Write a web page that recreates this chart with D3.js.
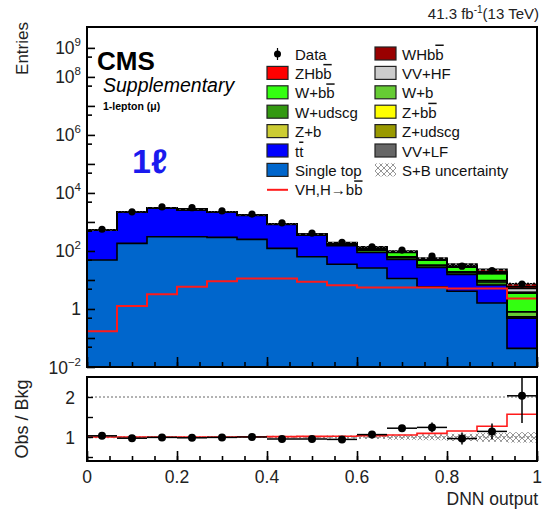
<!DOCTYPE html>
<html>
<head>
<meta charset="utf-8">
<script src="https://cdn.jsdelivr.net/npm/d3@7"></script>
<style>
  body { margin: 0; background: #fff; }
  svg { font-family: "Liberation Sans", Arial, Helvetica, sans-serif; }
</style>
</head>
<body>
<div id="chart"></div>
<script>
// ---- data (15 bins of DNN output) ----
let n_bins = 15
let single_top = [49, 182, 309, 309, 295, 251, 123, 63, 35, 26, 11.3, 5.8, 4.1, 1.6, 0.044]
let ttbar      = [470, 2010, 2730, 2380, 1900, 1440, 700, 295, 116, 63, 40, 21, 11.5, 5.1, 0.44]
let w_udscg    = [3, 10, 14, 12, 10, 9, 6, 4, 20, 18, 8, 4, 2.5, 1.8, 0.05]
let w_b        = [1, 3, 4, 4, 3, 3, 2, 2, 5, 6, 3, 2, 1.2, 1.0, 0.26]
let w_bb       = [1, 4, 5, 5, 5, 4, 4, 3, 8, 14, 26, 15, 8, 7, 2.7]
let z_udscg    = [1, 3, 4, 3, 3, 2, 2, 1, 2, 2, 1.5, 1, 0.5, 0.3, 0.05]
let z_b        = [0.5, 1, 1.5, 1.5, 1, 1, 1, 0.5, 1, 1, 0.8, 0.5, 0.3, 0.2, 0.05]
let z_bb       = [0.3, 1, 1, 1, 1, 1, 0.8, 0.5, 1, 1, 1, 0.8, 0.5, 0.4, 0.1]
let vv_lf      = [0.5, 1.5, 2, 2, 2, 1.5, 1, 0.8, 1, 1, 0.8, 0.5, 0.4, 0.2, 0.05]
let vv_hf      = [0.2, 0.5, 0.8, 0.8, 0.8, 0.7, 0.6, 0.5, 0.8, 1, 1.2, 1.2, 1, 0.8, 1.4]
let zh_bb      = [0.05, 0.3, 0.8, 1.4, 2.2, 2.7, 2.7, 2.1, 1.6, 1.3, 1.3, 1.3, 1.2, 1.2, 0.7]
let wh_bb      = [0.12, 0.9, 2.4, 4.4, 6.9, 8.6, 8.6, 6.6, 5.0, 4.2, 4.2, 4.2, 3.9, 3.9, 1.6]

let signal_line = [0.17, 1.26, 3.2, 5.8, 9.1, 11.3, 11.3, 8.7, 6.6, 5.5, 5.5, 5.5, 5.1, 5.1, 2.3]
let data_vals   = [560, 2240, 3300, 3100, 2400, 1870, 935, 415, 198, 139, 107, 66, 30, 21, 7.2]

let ratio_vals  = [1.03, 0.97, 0.99, 0.98, 0.99, 1.0, 0.95, 0.95, 0.94, 1.06, 1.22, 1.24, 0.96, 1.14, 2.03]
let ratio_errs  = [0.02, 0.01, 0.01, 0.01, 0.01, 0.01, 0.02, 0.03, 0.04, 0.05, 0.08, 0.12, 0.15, 0.2, 0.68]
let ratio_sig   = [1.0, 1.0, 1.0, 1.0, 1.0, 1.005, 1.01, 1.015, 1.02, 1.03, 1.05, 1.09, 1.15, 1.27, 1.57]
let band_lo     = [0.97, 0.98, 0.98, 0.98, 0.98, 0.98, 0.97, 0.97, 0.96, 0.95, 0.93, 0.92, 0.9, 0.88, 0.86]
let band_hi     = [1.03, 1.02, 1.02, 1.02, 1.02, 1.02, 1.03, 1.03, 1.04, 1.05, 1.06, 1.07, 1.08, 1.1, 1.12]

let main_tick_labels = {"1e9": ["10", "9"], "1e8": ["10", "8"], "1e6": ["10", "6"], "1e4": ["10", "4"],
                        "100": ["10", "2"], "1": ["1", ""], "0.01": ["10", "\u22122"]}
let x_tick_labels = ["0", "0.2", "0.4", "0.6", "0.8", "1"]

// stack order bottom -> top
let layers = [
    {name: "Single top", vals: single_top, color: "#0066cc"},
    {name: "tt", vals: ttbar, color: "#0000ff"},
    {name: "W+udscg", vals: w_udscg, color: "#339911"},
    {name: "W+b", vals: w_b, color: "#66cc33"},
    {name: "W+bb", vals: w_bb, color: "#33ff11"},
    {name: "Z+udscg", vals: z_udscg, color: "#999900"},
    {name: "Z+b", vals: z_b, color: "#cccc33"},
    {name: "Z+bb", vals: z_bb, color: "#ffff00"},
    {name: "VV+LF", vals: vv_lf, color: "#666666"},
    {name: "VV+HF", vals: vv_hf, color: "#cccccc"},
    {name: "ZHbb", vals: zh_bb, color: "#ff0000"},
    {name: "WHbb", vals: wh_bb, color: "#990000"},
]

let width = 543, height = 511
let left = 87, right = 537
let main_top = 27, main_bottom = 367
let ratio_top = 377, ratio_bottom = 461

let svg = d3.select("#chart").append("svg")
    .attr("width", width).attr("height", height)

let defs = svg.append("defs")
let hatch = defs.append("pattern").attr("id", "hatch")
    .attr("patternUnits", "userSpaceOnUse").attr("width", 6).attr("height", 6)
hatch.append("path").attr("d", "M0,0 L6,6 M6,0 L0,6")
    .attr("stroke", "#8a8a8a").attr("stroke-width", 0.9).attr("fill", "none")
defs.append("clipPath").attr("id", "clip_main").append("rect")
    .attr("x", left).attr("y", main_top).attr("width", right - left).attr("height", main_bottom - main_top)
defs.append("clipPath").attr("id", "clip_ratio").append("rect")
    .attr("x", left).attr("y", ratio_top).attr("width", right - left).attr("height", ratio_bottom - ratio_top)

let x = d3.scaleLinear().domain([0, 1]).range([left, right])
let y = d3.scaleLog().domain([1e-2, Math.pow(10, 9.72)]).range([main_bottom, main_top]).clamp(true)
let yr = d3.scaleLinear().domain([0.4, 2.5]).range([ratio_bottom, ratio_top])

let edges = d3.range(n_bins + 1).map(i => i / n_bins)
let centers = d3.range(n_bins).map(i => (i + 0.5) / n_bins)

function step_path(vals, ys){
    let d = "M" + x(edges[0]) + "," + ys(vals[0])
    for(let i=0;i<vals.length;i++){
        if(i > 0) d += "V" + ys(vals[i])
        d += "H" + x(edges[i+1])
    }
    return d
}

// ---- main panel ----
let gm = svg.append("g").attr("clip-path", "url(#clip_main)")

let cum = new Array(n_bins).fill(0)
let tops = []
for(let layer of layers){
    let lo = cum.slice()
    let hi = cum.map((c, i) => c + layer.vals[i])
    gm.append("g").selectAll("rect").data(d3.range(n_bins)).enter()
        .append("rect")
            .attr("x", i => x(edges[i]))
            .attr("width", i => x(edges[i+1]) - x(edges[i]))
            .attr("y", i => y(hi[i]))
            .attr("height", i => y(lo[i] > 0 ? lo[i] : 1e-3) - y(hi[i]))
            .attr("fill", layer.color)
    tops.push(hi)
    cum = hi
}
for(let hi of tops){
    gm.append("path").attr("d", step_path(hi, y))
        .attr("fill", "none").attr("stroke", "#000").attr("stroke-width", 1.6)
}

// uncertainty hatch on top of stack
let total = cum
gm.append("g").selectAll("rect").data(d3.range(n_bins)).enter()
    .append("rect")
        .attr("x", i => x(edges[i]))
        .attr("width", i => x(edges[i+1]) - x(edges[i]))
        .attr("y", i => y(total[i] * band_hi[i]))
        .attr("height", i => y(total[i] * band_lo[i]) - y(total[i] * band_hi[i]))
        .attr("fill", "url(#hatch)")

// signal line
gm.append("path").attr("d", step_path(signal_line, y))
    .attr("fill", "none").attr("stroke", "#ff1a1a").attr("stroke-width", 2)

// data
gm.append("g").selectAll("circle").data(data_vals).enter()
    .append("circle")
        .attr("cx", (d, i) => x(centers[i]))
        .attr("cy", d => y(d))
        .attr("r", 3.6)
        .attr("fill", "#000")

// axes main
let y_ticks = d3.range(-2, 10).map(p => Math.pow(10, p))
let y_axis = svg.append("g").attr("transform", "translate(" + left + ",0)")
    .call(d3.axisLeft(y).tickValues(y_ticks).tickSize(-8).tickPadding(6).tickFormat(""))
y_axis.select(".domain").remove()
y_axis.selectAll("line").attr("stroke", "#000").attr("stroke-width", 1.6)
let y_minor = svg.append("g").attr("transform", "translate(" + left + ",0)")
    .call(d3.axisLeft(y).tickValues(d3.range(-2, 10).map(p => 5 * Math.pow(10, p - 1)).filter(v => v > 0.01))
        .tickSize(-5).tickFormat(""))
y_minor.select(".domain").remove()
y_minor.selectAll("line").attr("stroke", "#000").attr("stroke-width", 1.6)

for(let key of Object.keys(main_tick_labels)){
    let lab = main_tick_labels[key]
    let t = svg.append("text")
        .attr("x", left - 6).attr("y", y(+key) + 6.5)
        .attr("text-anchor", "end").attr("font-size", 17.5).attr("fill", "#222")
    t.append("tspan").text(lab[0])
    if(lab[1]) t.append("tspan").attr("dy", -8).attr("font-size", 11.5).text(lab[1])
}

let x_minor_ticks = d3.range(21).map(i => i / 20)
function x_ticks(y0, dir){
    let g = svg.append("g").attr("transform", "translate(0," + y0 + ")")
    g.call(d3.axisBottom(x).tickValues(x_minor_ticks).tickSize(dir * 5).tickFormat(""))
    g.select(".domain").remove()
    g.selectAll("line").attr("stroke", "#000").attr("stroke-width", 1.6)
    let g2 = svg.append("g").attr("transform", "translate(0," + y0 + ")")
    g2.call(d3.axisBottom(x).ticks(5).tickSize(dir * 10).tickFormat(""))
    g2.select(".domain").remove()
    g2.selectAll("line").attr("stroke", "#000").attr("stroke-width", 1.6)
}
x_ticks(main_bottom, -1)
x_ticks(ratio_bottom, -1)

svg.append("rect").attr("x", left).attr("y", main_top)
    .attr("width", right - left).attr("height", main_bottom - main_top)
    .attr("fill", "none").attr("stroke", "#000").attr("stroke-width", 2)

// ---- ratio panel ----
let gr = svg.append("g").attr("clip-path", "url(#clip_ratio)")
gr.append("line").attr("x1", left).attr("x2", right).attr("y1", yr(2)).attr("y2", yr(2))
    .attr("stroke", "#666").attr("stroke-dasharray", "2,2").attr("stroke-width", 1)
gr.append("line").attr("x1", left).attr("x2", right).attr("y1", yr(1)).attr("y2", yr(1))
    .attr("stroke", "#666").attr("stroke-dasharray", "2,2").attr("stroke-width", 1)
gr.append("g").selectAll("rect").data(d3.range(n_bins)).enter()
    .append("rect")
        .attr("x", i => x(edges[i]))
        .attr("width", i => x(edges[i+1]) - x(edges[i]))
        .attr("y", i => yr(band_hi[i]))
        .attr("height", i => yr(band_lo[i]) - yr(band_hi[i]))
        .attr("fill", "url(#hatch)")
gr.append("path").attr("d", step_path(ratio_sig, yr))
    .attr("fill", "none").attr("stroke", "#ff1a1a").attr("stroke-width", 1.6)
let pts = gr.append("g").selectAll("g").data(ratio_vals).enter().append("g")
pts.append("line")
    .attr("x1", (d, i) => x(edges[i])).attr("x2", (d, i) => x(edges[i+1]))
    .attr("y1", d => yr(d)).attr("y2", d => yr(d))
    .attr("stroke", "#000").attr("stroke-width", 1.5)
pts.append("line")
    .attr("x1", (d, i) => x(centers[i])).attr("x2", (d, i) => x(centers[i]))
    .attr("y1", (d, i) => yr(d - ratio_errs[i])).attr("y2", (d, i) => yr(d + ratio_errs[i]))
    .attr("stroke", "#000").attr("stroke-width", 1.5)
pts.append("circle")
    .attr("cx", (d, i) => x(centers[i])).attr("cy", d => yr(d)).attr("r", 4)
    .attr("fill", "#000")

let yr_axis = svg.append("g").attr("transform", "translate(" + left + ",0)")
    .call(d3.axisLeft(yr).tickValues([0.5, 1, 1.5, 2]).tickSize(-6).tickFormat(""))
yr_axis.select(".domain").remove()
yr_axis.selectAll("line").attr("stroke", "#000").attr("stroke-width", 1.4)
for(let v of [1, 2]){
    svg.append("text").attr("x", left - 12).attr("y", yr(v) + 6.5)
        .attr("text-anchor", "end").attr("font-size", 17.5).attr("fill", "#222").text(v)
}

svg.append("rect").attr("x", left).attr("y", ratio_top)
    .attr("width", right - left).attr("height", ratio_bottom - ratio_top)
    .attr("fill", "none").attr("stroke", "#000").attr("stroke-width", 2)

svg.append("g").selectAll("text").data(x_tick_labels).enter()
    .append("text")
        .attr("x", (d, i) => x(i * 0.2)).attr("y", 483)
        .attr("text-anchor", "middle").attr("font-size", 17.5).attr("fill", "#222")
        .text(d => d)

// ---- titles ----
svg.append("text").attr("x", 538).attr("y", 505).attr("text-anchor", "end")
    .attr("font-size", 17.5).attr("fill", "#222").text("DNN output")
svg.append("text").attr("transform", "translate(28,22) rotate(-90)").attr("text-anchor", "end")
    .attr("font-size", 17).attr("fill", "#222").text("Entries")
svg.append("text").attr("transform", "translate(28," + ((ratio_top + ratio_bottom) / 2) + ") rotate(-90)")
    .attr("text-anchor", "middle").attr("font-size", 18).attr("fill", "#222").text("Obs / Bkg")

let lumi = svg.append("text").attr("x", 539).attr("y", 19).attr("text-anchor", "end")
    .attr("font-size", 15).attr("fill", "#222")
lumi.append("tspan").text("41.3 fb")
lumi.append("tspan").attr("dy", -6).attr("font-size", 10).text("-1")
lumi.append("tspan").attr("dy", 6).text("(13 TeV)")

svg.append("text").attr("x", 97).attr("y", 70).attr("font-size", 26).attr("font-weight", "bold").text("CMS")
svg.append("text").attr("x", 103).attr("y", 92).attr("font-size", 19.5).attr("font-style", "italic").text("Supplementary")
svg.append("text").attr("x", 103).attr("y", 110).attr("font-size", 10.5).attr("font-weight", "bold").text("1-lepton (\u03bc)")
svg.append("text").attr("x", 132).attr("y", 173).attr("font-size", 34).attr("font-weight", "bold")
    .attr("fill", "#1a1aee").text("1\u2113")

// ---- legend ----
let leg_left = [
    {type: "data", label: [["Data"]]},
    {type: "box", color: "#ff0000", label: [["ZHb"], ["b", true]]},
    {type: "box", color: "#33ff11", label: [["W+b"], ["b", true]]},
    {type: "box", color: "#339911", label: [["W+udscg"]]},
    {type: "box", color: "#cccc33", label: [["Z+b"]]},
    {type: "box", color: "#0000ff", label: [["t"], ["t", true]]},
    {type: "box", color: "#0066cc", label: [["Single top"]]},
    {type: "line", color: "#ff1a1a", label: [["VH,H\u2192b"], ["b", true]]},
]
let leg_right = [
    {type: "box", color: "#990000", label: [["WHb"], ["b", true]]},
    {type: "box", color: "#cccccc", label: [["VV+HF"]]},
    {type: "box", color: "#66cc33", label: [["W+b"]]},
    {type: "box", color: "#ffff00", label: [["Z+b"], ["b", true]]},
    {type: "box", color: "#999900", label: [["Z+udscg"]]},
    {type: "box", color: "#666666", label: [["VV+LF"]]},
    {type: "hatch", label: [["S+B uncertainty"]]},
]

function draw_legend(entries, bx, tx){
    entries.forEach((e, i) => {
        let cy = 54 + i * 19.4
        if(e.type == "box"){
            svg.append("rect").attr("x", bx).attr("y", cy - 7).attr("width", 21).attr("height", 13)
                .attr("fill", e.color).attr("stroke", "#222").attr("stroke-width", 1.2)
        } else if(e.type == "data"){
            svg.append("circle").attr("cx", bx + 10.5).attr("cy", cy).attr("r", 3.5).attr("fill", "#000")
            svg.append("line").attr("x1", bx + 10.5).attr("x2", bx + 10.5).attr("y1", cy - 6).attr("y2", cy + 6)
                .attr("stroke", "#000").attr("stroke-width", 1.2)
        } else if(e.type == "line"){
            svg.append("line").attr("x1", bx).attr("x2", bx + 21).attr("y1", cy).attr("y2", cy)
                .attr("stroke", e.color).attr("stroke-width", 2)
        } else if(e.type == "hatch"){
            svg.append("rect").attr("x", bx).attr("y", cy - 7).attr("width", 21).attr("height", 13)
                .attr("fill", "url(#hatch)")
        }
        let t = svg.append("text").attr("x", tx).attr("y", cy + 5.5).attr("font-size", 15).attr("fill", "#111")
        for(let part of e.label){
            let sp = t.append("tspan").text(part[0])
            if(part[1]) sp.attr("text-decoration", "overline")
        }
    })
}
draw_legend(leg_left, 267, 295)
draw_legend(leg_right, 375, 402)
</script>
</body>
</html>
